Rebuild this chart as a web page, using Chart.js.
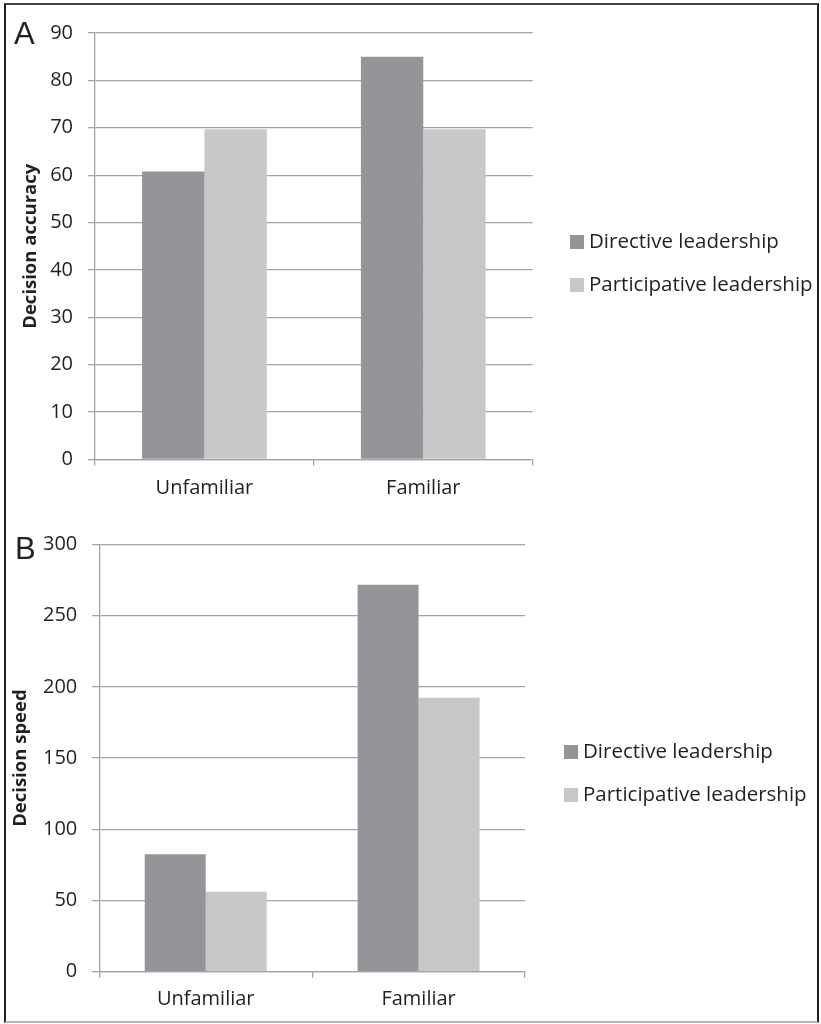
<!DOCTYPE html>
<html>
<head>
<meta charset="utf-8">
<script src="https://cdn.jsdelivr.net/npm/chart.js@4"></script>
<style>
  html, body { margin: 0; padding: 0; background: #ffffff; }
  body { width: 821px; height: 1024px; position: relative; overflow: hidden; }
  canvas { position: absolute; left: 0; }
  #cA { top: 0; }
  #cB { top: 512px; }
  .frame { position: absolute; left: 4px; top: 3px; width: 815px; height: 1020px; box-sizing: border-box;
           border-left: 2px solid #231f20; border-top: 2px solid #444; border-right: 2px solid #231f20; border-bottom: 2px solid #b5b5b5; pointer-events: none; }
  .letter { position: absolute; font-family: "Liberation Sans", Arial, sans-serif; font-size: 31px; line-height: 1; color: #231f20; }
</style>
</head>
<body>
<div class="frame"></div>
<canvas id="cA" width="821" height="512"></canvas>
<canvas id="cB" width="821" height="512"></canvas>
<div class="letter" style="left:14px; top:18px;">A</div>
<div class="letter" style="left:15px; top:533px;">B</div>
<script>
const categories = ['Unfamiliar', 'Familiar'];
const seriesNames = ['Directive leadership', 'Participative leadership'];
const accuracyDirective = [60.8, 85];
const accuracyParticipative = [69.7, 69.7];
const speedDirective = [82.5, 271.7];
const speedParticipative = [56.1, 192.4];
const accuracyTitle = 'Decision accuracy';
const speedTitle = 'Decision speed';
const accuracyTicks = { min: 0, max: 90, step: 10 };
const speedTicks = { min: 0, max: 300, step: 50 };

const COLORS = ['#939598', '#c7c8ca'];
const GRID = '#a3a3a3';
const TEXT = '#231f20';
const FONT = '"Open Sans", "Noto Sans", sans-serif';

const sideLegend = {
  id: 'sideLegend',
  afterDraw(chart, args, opts) {
    const ctx = chart.ctx;
    ctx.save();
    ctx.font = opts.font;
    ctx.textBaseline = 'middle';
    ctx.textAlign = 'left';
    chart.data.datasets.forEach((ds, i) => {
      const y = opts.rows[i];
      ctx.fillStyle = ds.backgroundColor;
      ctx.fillRect(opts.boxX, y - opts.box / 2 + opts.boxShift, opts.box, opts.box);
      ctx.fillStyle = opts.color;
      ctx.fillText(ds.label, opts.textX, y);
    });
    ctx.restore();
  }
};

function makeChart(id, d1, d2, ticksDef, title, geo) {
  return new Chart(document.getElementById(id), {
    type: 'bar',
    data: {
      labels: categories,
      datasets: [
        { label: seriesNames[0], data: d1, backgroundColor: COLORS[0], borderWidth: 0,
          barPercentage: 1.0, categoryPercentage: geo.catPct },
        { label: seriesNames[1], data: d2, backgroundColor: COLORS[1], borderWidth: 0,
          barPercentage: 1.0, categoryPercentage: geo.catPct }
      ]
    },
    options: {
      responsive: false,
      animation: false,
      devicePixelRatio: 1,
      layout: { padding: { left: 0, top: geo.top, right: geo.right, bottom: 0 } },
      plugins: {
        legend: { display: false },
        tooltip: { enabled: false },
        sideLegend: geo.legend
      },
      scales: {
        x: {
          offset: true,
          grid: { display: true, drawOnChartArea: false, drawTicks: true, tickLength: 6, offset: true, color: GRID, lineWidth: 1.3 },
          border: { display: true, color: GRID, width: 1.3 },
          ticks: { color: TEXT, font: { family: FONT, size: 20 }, padding: geo.xPad },
          afterFit(scale) { scale.height = geo.xHeight; }
        },
        y: {
          min: ticksDef.min, max: ticksDef.max,
          ticks: { stepSize: ticksDef.step, color: TEXT, font: { family: FONT, size: 20 }, padding: 15 },
          grid: { color: GRID, lineWidth: 1.3, tickLength: 7, drawTicks: true },
          border: { display: true, color: GRID, width: 1.3 },
          title: { display: true, text: title, color: TEXT, font: { family: FONT, size: 18.5, weight: 'bold', lineHeight: 1.2 },
                   padding: { top: geo.titlePad, bottom: 0 } },
          afterFit(scale) { scale.width = geo.yWidth; }
        }
      }
    },
    plugins: [sideLegend]
  });
}

makeChart('cA', accuracyDirective, accuracyParticipative, accuracyTicks, accuracyTitle, {
  top: 33, right: 288.3, yWidth: 95, xHeight: 52.5, catPct: 0.570, xPad: 11, titlePad: 19.5,
  legend: { font: '20.5px ' + FONT, color: TEXT, boxX: 570, box: 14, boxShift: 0, textX: 589, rows: [242, 285] }
});

makeChart('cB', speedDirective, speedParticipative, speedTicks, speedTitle, {
  top: 32.5, right: 296, yWidth: 99.3, xHeight: 52.3, catPct: 0.573, xPad: 9.5, titlePad: 9.5,
  legend: { font: '20.5px ' + FONT, color: TEXT, boxX: 564, box: 14, boxShift: 0, textX: 583, rows: [240, 283] }
});
</script>
</body>
</html>
